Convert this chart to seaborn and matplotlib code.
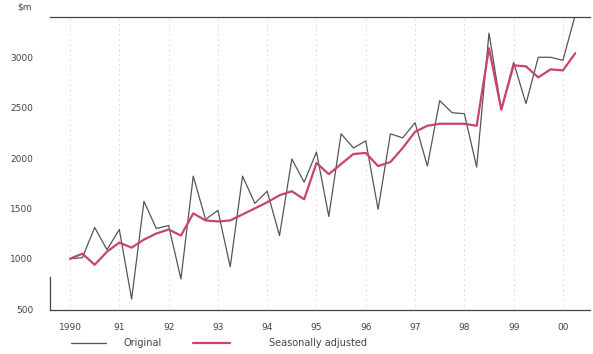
import matplotlib
matplotlib.use("Agg")
import matplotlib.pyplot as plt
import seaborn as sns
import numpy as np
import pandas as pd

# quarterly series, 1990 Q1 .. 2000 Q2 ($m)
original = [1000, 1010, 1310, 1090, 1290, 600, 1570, 1300,
            1330, 800, 1820, 1390, 1480, 920, 1820, 1550,
            1670, 1230, 1990, 1760, 2060, 1420, 2240, 2100,
            2170, 1490, 2240, 2200, 2350, 1920, 2570, 2450,
            2440, 1910, 3240, 2480, 2950, 2540, 3000, 3000,
            2970, 3420]
seasonally_adjusted = [1000, 1050, 940, 1070, 1160, 1110, 1190, 1250,
                       1290, 1230, 1450, 1380, 1370, 1380, 1440, 1500,
                       1560, 1630, 1670, 1590, 1950, 1840, 1940, 2040,
                       2050, 1920, 1960, 2100, 2260, 2320, 2340, 2340,
                       2340, 2320, 3090, 2480, 2920, 2910, 2800, 2880,
                       2870, 3040]
start_year = 1990
year_ticks = list(range(1990, 2001))
year_labels = ["1990", "91", "92", "93", "94", "95", "96", "97", "98", "99", "00"]
y_ticks = [500, 1000, 1500, 2000, 2500, 3000]

t = start_year + np.arange(len(original)) / 4
df = pd.concat([
    pd.DataFrame({"t": t, "value": original, "series": "Original"}),
    pd.DataFrame({"t": t, "value": seasonally_adjusted, "series": "Seasonally adjusted"}),
])

sns.set_style("white")
plt.rcParams["font.family"] = ["DejaVu Sans"]

fig = plt.figure(figsize=(5.93, 3.54), dpi=100)
ax = fig.add_axes([0.084, 0.124, 0.911, 0.828])

palette = {"Original": "#555555", "Seasonally adjusted": "#c8456a"}
sns.lineplot(data=df[df.series == "Original"], x="t", y="value", color=palette["Original"],
             lw=0.9, ax=ax, label="Original")
sns.lineplot(data=df[df.series == "Seasonally adjusted"], x="t", y="value",
             color=palette["Seasonally adjusted"], lw=1.6, ax=ax, label="Seasonally adjusted")

for yr in year_ticks:
    ax.axvline(yr, color="#aaaaaa", lw=0.6, ls=(0, (1, 5)), zorder=0)

ax.set_xlim(1989.59, 2000.55)
ax.set_ylim(490, 3400)
ax.set_xticks(year_ticks)
ax.set_xticklabels(year_labels)
ax.set_yticks(y_ticks)
ax.set_yticklabels([str(v) for v in y_ticks])
ax.set_xlabel("")
ax.set_ylabel("")
ax.tick_params(axis="both", labelsize=6.5, colors="#444444", length=4, width=0.7, pad=5)
ax.tick_params(axis="y", pad=8)

ax.spines["right"].set_visible(False)
ax.spines["left"].set_bounds(490, 820)
for s in ["top", "bottom", "left"]:
    ax.spines[s].set_color("#444444")
    ax.spines[s].set_linewidth(0.9)

ax.text(-0.06, 1.02, "$m", transform=ax.transAxes, fontsize=6.5, color="#444444",
        ha="left", va="bottom")

handles, labels = ax.get_legend_handles_labels()
ax.get_legend().remove()
fig.legend([handles[0]], [labels[0]], loc="center left", bbox_to_anchor=(0.12, 0.031),
           frameon=False, fontsize=7, handlelength=3.6, handletextpad=1.8,
           borderpad=0, borderaxespad=0, labelcolor="#444444")
fig.legend([handles[1]], [labels[1]], loc="center left", bbox_to_anchor=(0.325, 0.031),
           frameon=False, fontsize=7, handlelength=3.8, handletextpad=4.0,
           borderpad=0, borderaxespad=0, labelcolor="#444444")

fig.savefig("out.png", dpi=100)
